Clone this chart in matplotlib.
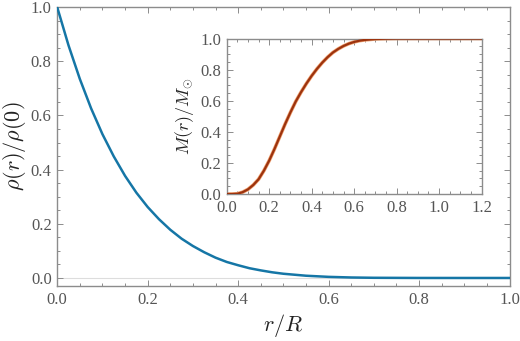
import numpy as np
import matplotlib
matplotlib.use("Agg")
import matplotlib.pyplot as plt
from matplotlib.ticker import MultipleLocator, FormatStrFormatter

plt.rcParams["font.family"] = ["Liberation Serif", "DejaVu Serif"]
plt.rcParams["mathtext.fontset"] = "cm"

# density profile, rho(r)/rho(0) against r/R
r_rho = [0.0, 0.025, 0.05, 0.075, 0.1, 0.125, 0.15, 0.175, 0.2, 0.225, 0.25,
         0.275, 0.3, 0.325, 0.35, 0.375, 0.4, 0.425, 0.45, 0.475, 0.5, 0.55,
         0.6, 0.65, 0.7, 0.8, 0.9, 1.0]
rho = [1.0, 0.859, 0.735, 0.626, 0.531, 0.449, 0.377, 0.315, 0.262, 0.217, 0.178,
       0.145, 0.118, 0.095, 0.075, 0.059, 0.047, 0.036, 0.028, 0.021, 0.0156, 0.0083,
       0.0041, 0.0018, 0.0007, 0.0001, 0.0, 0.0]

# enclosed mass, M(r)/M_sun
r_mass = [0.0, 0.025, 0.05, 0.075, 0.1, 0.125, 0.15, 0.175, 0.2, 0.225, 0.25,
          0.275, 0.3, 0.325, 0.35, 0.375, 0.4, 0.425, 0.45, 0.475, 0.5, 0.525,
          0.55, 0.575, 0.6, 0.625, 0.65, 0.7, 0.75, 0.8, 1.2]
mass = [0.0, 0.0, 0.002, 0.012, 0.03, 0.058, 0.095, 0.15, 0.215, 0.29, 0.37,
        0.45, 0.525, 0.595, 0.655, 0.71, 0.76, 0.805, 0.845, 0.88, 0.91, 0.933,
        0.952, 0.967, 0.978, 0.986, 0.991, 0.997, 0.999, 1.0, 1.0]

frame_col = "#8c8c8c"
label_col = "#555555"


def style(ax, size):
    for s in ax.spines.values():
        s.set_color(frame_col)
        s.set_linewidth(1.0)
    ax.xaxis.set_major_locator(MultipleLocator(0.2))
    ax.xaxis.set_minor_locator(MultipleLocator(0.05))
    ax.yaxis.set_major_locator(MultipleLocator(0.2))
    ax.yaxis.set_minor_locator(MultipleLocator(0.05))
    ax.tick_params(which="both", direction="in", top=True, right=True,
                   color=frame_col, labelcolor=label_col, labelsize=size, width=0.7)
    ax.tick_params(which="major", length=4, pad=4)
    ax.tick_params(which="minor", length=2)
    ax.xaxis.set_major_formatter(FormatStrFormatter("%.1f"))
    ax.yaxis.set_major_formatter(FormatStrFormatter("%.1f"))


fig = plt.figure(figsize=(5.2, 3.41), dpi=100)
ax = fig.add_axes([0.110, 0.161, 0.870, 0.818])
ax.axhline(0, color="#dddddd", lw=0.8, zorder=1)
ax.plot(r_rho, rho, color="#1576a6", lw=1.8, zorder=3, solid_joinstyle="round")
ax.set_xlim(0, 1)
ax.set_ylim(-0.03, 1.0)
style(ax, 12)
ax.set_xlabel(r"$r/R$", fontsize=16, color="#222222", labelpad=3)
ax.set_ylabel(r"$\rho(r)/\rho(0)$", fontsize=16, color="#222222", labelpad=2)

ins = fig.add_axes([0.436, 0.431, 0.490, 0.456])
ins.plot(r_mass, mass, color="#f0a070", lw=2.6, zorder=2, solid_joinstyle="round")
ins.plot(r_mass, mass, color="#9c330e", lw=1.6, zorder=3, solid_joinstyle="round")
ins.set_xlim(0, 1.2)
ins.set_ylim(0, 1.0)
style(ins, 12)
ins.set_ylabel(r"$M(r)/M_{\odot}$", fontsize=13, color="#222222", labelpad=3)

fig.savefig("out.png", dpi=100)
